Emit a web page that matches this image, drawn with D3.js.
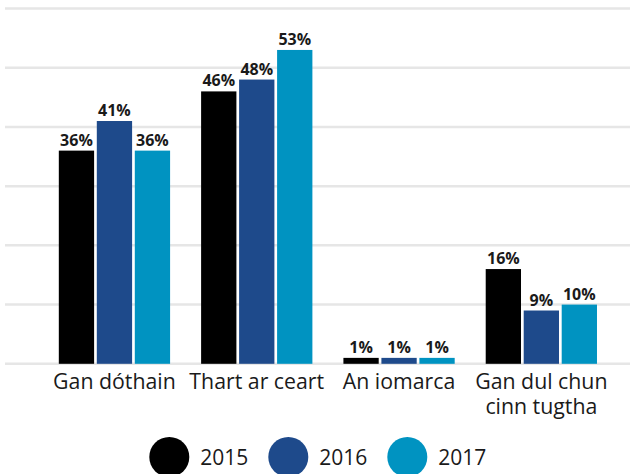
<!DOCTYPE html>
<html>
<head>
<meta charset="utf-8">
<script src="https://cdn.jsdelivr.net/npm/d3@7"></script>
<style>
  body { margin: 0; background: #fff; }
  text { font-family: "Open Sans", sans-serif; }
</style>
</head>
<body>
<script>
// chart data
const categories = ['Gan dóthain', 'Thart ar ceart', 'An iomarca', 'Gan dul chun\ncinn tugtha'];
const years = ['2015', '2016', '2017'];
const values2015 = [36, 46, 1, 16];
const values2016 = [41, 48, 1, 9];
const values2017 = [36, 53, 1, 10];
const gridTicks = [0, 10, 20, 30, 40, 50, 60];

const series = [values2015, values2016, values2017];
const colors = ['#000000', '#1e4a8b', '#0093c1'];

const width = 630;
const height = 474;

const svg = d3.select('body').append('svg')
    .attr('width', width)
    .attr('height', height);

// scales
const y = d3.scaleLinear().domain([0, 60]).range([363.8, 8.5]);

const x0 = d3.scaleBand()
    .domain(categories)
    .range([43.3, 612.5])
    .paddingInner(0.218)
    .paddingOuter(0.109);

const x1 = d3.scaleBand()
    .domain(years)
    .range([0, x0.bandwidth()])
    .paddingInner(0.071);

const color = d3.scaleOrdinal().domain(years).range(colors);

// gridlines
svg.append('g')
    .selectAll('line')
    .data(gridTicks)
    .enter().append('line')
    .attr('x1', 5)
    .attr('x2', width)
    .attr('y1', d => y(d))
    .attr('y2', d => y(d))
    .attr('stroke', '#e6e6e6')
    .attr('stroke-width', 2.5);

// bars
const rows = categories.map((c, i) => ({
    cat: c,
    vals: years.map((yr, j) => ({ year: yr, value: series[j][i] }))
}));

const group = svg.append('g')
    .selectAll('g')
    .data(rows)
    .enter().append('g')
    .attr('transform', d => 'translate(' + x0(d.cat) + ',0)');

group.selectAll('rect')
    .data(d => d.vals)
    .enter().append('rect')
    .attr('x', d => x1(d.year))
    .attr('y', d => y(d.value))
    .attr('width', x1.bandwidth())
    .attr('height', d => y(0) - y(d.value))
    .attr('fill', d => color(d.year));

group.selectAll('text')
    .data(d => d.vals)
    .enter().append('text')
    .attr('x', d => x1(d.year) + x1.bandwidth() / 2)
    .attr('y', d => y(d.value) - 5)
    .attr('text-anchor', 'middle')
    .attr('font-size', 16)
    .attr('font-weight', 'bold')
    .attr('fill', '#1a1a1a')
    .text(d => d.value + '%');

// category labels
const labels = svg.append('g')
    .selectAll('text')
    .data(categories)
    .enter().append('text')
    .attr('x', d => x0(d) + x0.bandwidth() / 2)
    .attr('y', 389)
    .attr('text-anchor', 'middle')
    .attr('font-size', 21.3)
    .attr('fill', '#1a1a1a');

labels.each(function (d) {
    const parts = d.split('\n');
    const t = d3.select(this);
    parts.forEach((p, i) => {
        t.append('tspan')
            .attr('x', x0(d) + x0.bandwidth() / 2)
            .attr('dy', i === 0 ? 0 : 25)
            .text(p);
    });
});

// legend
const legendX = d3.scaleBand().domain(years).range([149.3, 506.3]);

const legend = svg.append('g')
    .selectAll('g')
    .data(years)
    .enter().append('g')
    .attr('transform', d => 'translate(' + legendX(d) + ',457)');

legend.append('circle')
    .attr('cx', 20)
    .attr('cy', 0)
    .attr('r', 20)
    .attr('fill', d => color(d));

legend.append('text')
    .attr('x', 51)
    .attr('y', 8)
    .attr('font-size', 21)
    .attr('fill', '#1a1a1a')
    .text(d => d);
</script>
</body>
</html>
